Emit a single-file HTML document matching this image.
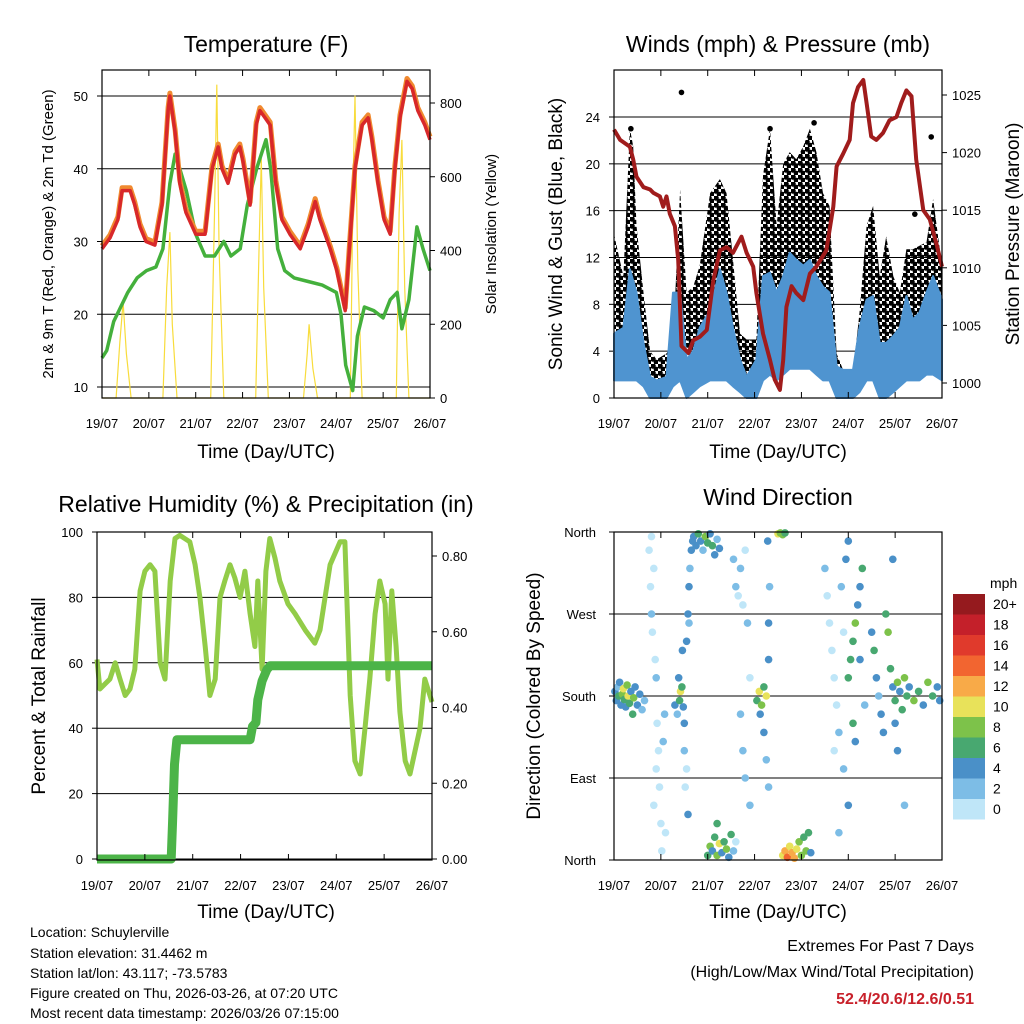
<!DOCTYPE html>
<html><head><meta charset="utf-8"><style>
body{margin:0;background:#fff}
svg{display:block;font-family:"Liberation Sans",sans-serif}
</style></head><body>
<svg id="s" width="1024" height="1024" viewBox="0 0 1024 1024" xmlns="http://www.w3.org/2000/svg">
<defs>
<pattern id="dots" width="7" height="7" patternUnits="userSpaceOnUse">
<circle cx="2" cy="2" r="2.8" fill="#000"/><circle cx="5.5" cy="5.5" r="2.8" fill="#000"/>
</pattern>
</defs>
<rect width="1024" height="1024" fill="#fff"/>
<g font-size="23" text-anchor="middle">
<text x="266" y="52">Temperature (F)</text>
<text x="778" y="52">Winds (mph) &amp; Pressure (mb)</text>
<text x="266" y="512">Relative Humidity (%) &amp; Precipitation (in)</text>
<text x="778" y="505">Wind Direction</text>
</g>
<g font-size="19" text-anchor="middle">
<text x="266" y="458">Time (Day/UTC)</text>
<text x="778" y="458">Time (Day/UTC)</text>
<text x="266" y="918">Time (Day/UTC)</text>
<text x="778" y="918">Time (Day/UTC)</text>
<text transform="translate(562,234) rotate(-90)">Sonic Wind &amp; Gust (Blue, Black)</text>
<text transform="translate(1019,234) rotate(-90)">Station Pressure (Maroon)</text>
<text transform="translate(45,696) rotate(-90)">Percent &amp; Total Rainfall</text>
<text transform="translate(540,696) rotate(-90)">Direction (Colored By Speed)</text>
</g>
<g font-size="15" text-anchor="middle">
<text transform="translate(53,234) rotate(-90)">2m &amp; 9m T (Red, Orange) &amp; 2m Td (Green)</text>
<text transform="translate(496,234) rotate(-90)">Solar Insolation (Yellow)</text>
</g>
<g font-size="14">
<text x="30" y="937">Location: Schuylerville</text>
<text x="30" y="958">Station elevation: 31.4462 m</text>
<text x="30" y="978">Station lat/lon: 43.117; -73.5783</text>
<text x="30" y="998">Figure created on Thu, 2026-03-26, at 07:20 UTC</text>
<text x="30" y="1018">Most recent data timestamp: 2026/03/26 07:15:00</text>
</g>
<g font-size="16" text-anchor="end">
<text x="974" y="951">Extremes For Past 7 Days</text>
<text x="974" y="977">(High/Low/Max Wind/Total Precipitation)</text>
<text x="974" y="1004" fill="#c8202a" font-weight="bold">52.4/20.6/12.6/0.51</text>
</g>
<g id="plots"></g>
</svg>
<script>
const dayLabels=['19/07','20/07','21/07','22/07','23/07','24/07','25/07','26/07'];
const tempTicks=[10,20,30,40,50];
const solarTicks=[0,200,400,600,800];
const windTicks=[0,4,8,12,16,20,24];
const presTicks=[1000,1005,1010,1015,1020,1025];
const rhTicks=[0,20,40,60,80,100];
const precipTicks=[0,0.2,0.4,0.6,0.8];
const dirTicks=['North','East','South','West','North'];
const speedBins=['0','2','4','6','8','10','12','14','16','18','20+'];

const tempT=[0,0.17,0.34,0.43,0.6,0.7,0.81,0.94,1.13,1.28,1.41,1.45,1.56,1.66,1.79,2.0,2.2,2.35,2.48,2.56,2.69,2.84,2.94,3.01,3.16,3.29,3.37,3.48,3.59,3.71,3.84,4.01,4.23,4.4,4.55,4.65,4.87,5.01,5.19,5.29,5.4,5.55,5.68,5.76,5.89,6.02,6.15,6.25,6.36,6.51,6.62,6.74,6.89,7.0];
const tempV=[29,30.5,33,37,37,35,32,30,29.5,35,48,50,45,38,34,31,31,40,43,40,38,42,43,41,35,46,48,47,46,38,33,31,29,32,35.5,33,29,26,20.5,30,40,46,47,44,38,33,31,40,47,52,51,48,46,44];
const dewT=[0,0.1,0.25,0.4,0.55,0.75,0.95,1.15,1.3,1.45,1.56,1.66,1.8,2.0,2.2,2.4,2.6,2.75,2.95,3.1,3.3,3.5,3.6,3.75,3.9,4.1,4.4,4.7,5.0,5.1,5.2,5.35,5.45,5.6,5.8,6.0,6.15,6.3,6.4,6.55,6.72,6.85,7.0];
const dewV=[14,15,19,21,23,25,26,26.5,29,38,42,40,37,31,28,28,30,28,29,35,40,44,40,29,26,25,24.5,24,23,20,13,9.5,17,21,20.5,19.5,22,23,18,22,32,29,26];
const solarT=[0,0.3,0.38,0.45,0.52,0.62,1.3,1.38,1.45,1.5,1.6,2.32,2.4,2.45,2.5,2.6,3.28,3.35,3.4,3.45,3.55,4.3,4.38,4.42,4.5,4.6,5.3,5.36,5.4,5.46,5.55,6.28,6.34,6.4,6.46,6.55,7.0];
const solarV=[0,0,150,260,120,0,0,300,450,200,0,0,500,850,400,0,0,400,650,300,0,0,120,200,80,0,0,600,820,350,0,0,500,700,300,0,0];
const presT=[0,0.13,0.34,0.41,0.48,0.63,0.77,0.84,0.98,1.05,1.12,1.19,1.3,1.37,1.44,1.59,1.69,1.83,1.98,2.12,2.26,2.4,2.54,2.72,2.83,2.97,3.04,3.18,3.33,3.43,3.54,3.61,3.68,3.79,3.89,4.04,4.18,4.32,4.53,4.68,4.75,4.89,5.03,5.1,5.21,5.32,5.39,5.49,5.6,5.74,5.88,6.03,6.13,6.24,6.35,6.45,6.6,6.74,6.88,7.0];
const presV=[1022,1021.1,1020.5,1019.4,1017.9,1017,1016.8,1016.5,1016.2,1015.3,1016.2,1014.7,1013.6,1010.7,1003.2,1002.6,1003.7,1004,1004.6,1008.9,1011.5,1011.8,1011.3,1012.7,1011.3,1010.1,1007.8,1004.3,1002,1000.3,999.4,1002,1006.6,1008.4,1007.8,1007.2,1009.5,1010.1,1011.5,1015.3,1018.8,1019.9,1021.1,1024.3,1025.7,1026.3,1024.3,1021.4,1021.1,1021.7,1022.8,1023.1,1024.3,1025.4,1024.9,1019.4,1015,1014.2,1012.1,1010.1];
const windT=[0,0.2,0.34,0.41,0.48,0.63,0.77,0.91,1.12,1.26,1.41,1.55,1.69,1.83,2.05,2.26,2.4,2.54,2.69,2.83,3.04,3.18,3.33,3.47,3.61,3.75,3.89,4.04,4.18,4.32,4.46,4.6,4.75,4.89,5.1,5.24,5.39,5.53,5.67,5.81,5.96,6.1,6.24,6.38,6.52,6.67,6.81,7.0];
const windHi=[5.5,6,11,10,9,4.7,1.8,1.5,1.8,9,9,3.3,4,6,7.5,11,9,6,3.3,1.8,3.3,10.4,10.7,9,10.4,12.4,11.8,11.3,11.8,10.4,9.5,9,2.7,2.4,2.4,6,8.4,8.7,4.7,4.7,5.3,6,8.7,6.7,7.3,9,10.4,8.4];
const windLo=[1.5,1.5,1.5,1.5,1.5,1,0,0,0,1,1.5,0,0.5,1,1.5,1.5,1.5,1,0.5,0,0,1.5,2,1.5,2,2.5,2.5,2.5,2.5,2,1.5,1.5,0,0,0,0.5,1.5,1.5,0,0,0.5,1,1.5,1.5,1.5,2,2,1.5];
const gustHi=[14,10.4,23,21.5,14.7,9,4,3.3,3.8,4.7,17.8,9,9.5,11.3,17.5,18.7,17.5,11.8,5.5,5,5,19,23,14.7,20,21,20.4,21.5,23,21,17.5,16.4,3.8,2.4,2.1,7.3,14.7,16.4,10.4,13.8,10.4,9,12.7,12.7,13,13.3,17,11.3];
const gustOutT=[1.44,0.36,4.27,3.33,6.42,6.77];
const gustOutV=[26.1,23,23.5,23,15.7,22.3];
const rhT=[0,0.06,0.27,0.38,0.48,0.59,0.69,0.79,0.9,1.0,1.11,1.21,1.32,1.42,1.53,1.63,1.73,1.94,2.05,2.15,2.26,2.36,2.47,2.57,2.67,2.78,2.88,2.99,3.09,3.2,3.3,3.36,3.45,3.53,3.61,3.72,3.82,3.99,4.14,4.35,4.55,4.66,4.87,5.08,5.18,5.29,5.39,5.5,5.6,5.7,5.81,5.91,6.02,6.08,6.16,6.25,6.33,6.44,6.54,6.75,6.85,7.0];
const rhV=[61,52,55,60,55,50,52,58,82,88,90,88,60,55,85,98,99,97,90,80,65,50,55,80,85,90,86,80,88,75,65,85,58,88,98,92,85,78,75,70,66,70,90,97,97,50,30,26,40,55,75,85,78,55,82,65,45,30,26,40,55,48];
const precipT=[0,1.55,1.58,1.62,1.67,3.2,3.25,3.32,3.36,3.45,3.55,3.62,7.0];
const precipV=[0,0,0.1,0.25,0.315,0.315,0.35,0.36,0.42,0.47,0.5,0.51,0.51];
const dirT=[0.02,0.05,0.08,0.1,0.12,0.15,0.18,0.2,0.22,0.25,0.28,0.3,0.33,0.36,0.4,0.42,0.45,0.5,0.55,0.6,0.65,
0.75,0.78,0.8,0.82,0.85,0.88,0.9,0.92,0.95,0.97,1.0,1.02,0.85,0.9,1.05,1.08,0.8,1.1,
1.3,1.35,1.4,1.42,1.45,1.48,1.5,1.38,1.46,1.5,1.55,
1.55,1.58,1.6,1.62,1.65,1.68,1.6,1.52,1.58,
1.7,1.75,1.8,1.85,1.9,1.95,2.0,2.05,2.1,2.15,2.2,2.25,
2.0,2.05,2.1,2.15,2.2,2.25,2.3,2.35,2.4,2.45,2.5,2.55,2.2,
2.55,2.6,2.65,2.7,2.75,2.8,2.85,2.9,2.7,2.75,2.8,2.9,2.6,
3.05,3.1,3.15,3.2,3.25,3.12,3.2,3.25,3.3,3.3,3.32,3.28,3.3,
3.5,3.55,3.6,3.65,
3.6,3.65,3.7,3.75,3.8,3.85,3.9,3.95,4.0,4.05,4.1,4.15,4.2,
4.5,4.55,4.6,4.65,4.7,4.75,4.8,4.85,4.9,4.95,5.0,4.7,4.9,5.0,4.8,
5.0,5.05,5.1,5.15,5.2,5.1,5.15,5.25,5.3,5.25,5.35,
5.5,5.55,5.6,5.65,5.7,5.75,5.8,5.85,5.9,5.95,6.0,6.05,6.1,6.15,6.2,6.25,6.3,6.0,6.05,5.95,6.2,6.4,6.5,6.6,6.7,6.8,6.9,6.95];
const dirV=[185,175,190,180,195,170,182,188,176,168,192,180,172,185,160,178,190,170,182,165,175,
340,300,270,250,320,220,200,150,120,80,40,10,60,100,130,160,355,30,
170,160,175,185,190,168,150,200,230,120,100,
240,270,300,320,340,350,260,80,50,
355,345,358,350,340,355,348,358,345,335,352,342,
5,15,10,25,5,18,8,20,12,3,28,10,40,
330,300,290,320,280,340,260,200,160,120,90,60,20,
175,185,170,190,180,160,140,110,220,260,300,350,80,
358,359,357,359,
5,10,3,15,8,2,12,20,5,25,10,30,8,
320,290,260,230,200,170,140,300,250,330,350,120,100,60,30,
200,220,240,260,280,150,130,300,320,220,170,
250,230,200,180,160,140,270,250,210,190,175,195,185,165,200,180,190,150,120,330,60,175,185,170,195,180,190,175];
const dirS=[4,4,2,6,4,4,8,10,6,4,8,10,6,4,6,8,4,4,4,2,2,
0,0,2,0,0,0,2,0,0,0,0,0,0,0,2,2,0,0,
4,2,6,10,6,4,4,4,4,2,0,
4,4,4,2,4,4,2,0,4,
4,4,6,4,2,8,6,4,6,4,2,4,
6,8,4,6,8,10,4,6,8,4,6,2,6,
2,2,0,2,0,0,2,0,2,2,2,2,0,
6,10,8,6,10,4,4,2,4,4,2,4,2,
10,8,8,6,
10,12,14,10,12,12,10,8,8,6,8,6,4,
2,0,0,0,0,0,2,2,0,4,4,0,2,4,2,
6,6,6,8,4,6,4,4,6,4,2,
4,6,4,2,4,4,6,8,6,4,6,8,4,6,8,6,4,4,4,4,2,8,6,4,8,6,4,4];
const binColors=['#bfe6f8','#7dbde6','#4a90c8','#48a870','#7dc24a','#e8e25a','#f8aa48','#f26530','#e03a2c','#c4202a','#951a1e'];

const NS='http://www.w3.org/2000/svg';
const root=document.getElementById('plots');
function mk(tag,attrs,parent){const e=document.createElementNS(NS,tag);for(const k in attrs)e.setAttribute(k,attrs[k]);(parent||root).appendChild(e);return e;}
function scale(d0,d1,r0,r1){return v=>r0+(v-d0)/(d1-d0)*(r1-r0);}
function pathD(T,V,sx,sy){return T.map((t,i)=>(i?'L':'M')+sx(t).toFixed(1)+' '+sy(V[i]).toFixed(1)).join(' ');}
function bandD(T,Lo,Hi,sx,sy){let d=T.map((t,i)=>(i?'L':'M')+sx(t).toFixed(1)+' '+sy(Hi[i]).toFixed(1)).join(' ');for(let i=T.length-1;i>=0;i--)d+='L'+sx(T[i]).toFixed(1)+' '+sy(Lo[i]).toFixed(1);return d+'Z';}

function frame(x0,y0,x1,y1,sx,name,lblY){
  const g=mk('g',{});
  
  
  dayLabels.forEach((l,i)=>{
    const x=sx(i);
    mk('line',{x1:x,x2:x,y1:y1,y2:y1-6,stroke:'#000'},g);
    mk('line',{x1:x,x2:x,y1:y0,y2:y0+6,stroke:'#000'},g);
    const tx=mk('text',{x:x,y:lblY,'font-size':13,'text-anchor':'middle'},g);
    tx.textContent=l;
    
    
  });
}
function border(x0,y0,x1,y1,name){
  const r=mk('rect',{x:x0,y:y0,width:x1-x0,height:y1-y0,fill:'none',stroke:'#000','stroke-width':1.2});
  
  
}
function yAxis(ticks,sy,x0,x1,side,fmt,grid,name){
  ticks.forEach(v=>{
    const y=sy(v);
    if(grid){const gl=mk('line',{x1:x0,x2:x1,y1:y,y2:y,stroke:'#000','stroke-width':1});
      
      }
    const xe=side==='l'?x0:x1;
    mk('line',{x1:xe,x2:xe+(side==='l'?-5:5),y1:y,y2:y,stroke:'#000'});
    const tx=mk('text',{x:side==='l'?x0-14:x1+10,y:y+5,'font-size':13,'text-anchor':side==='l'?'end':'start'});
    tx.textContent=fmt(v);
    
    
  });
}

/* Panel 1: temperature */
{const sx=scale(0,7,102,430),sy=scale(10,50,387,96),ss=scale(0,800,398,103);
 yAxis(tempTicks,sy,102,430,'l',v=>v,true,'temp');
 yAxis(solarTicks,ss,102,430,'r',v=>v,false,'solar');
 const so=mk('path',{d:pathD(solarT,solarV,sx,ss),fill:'none',stroke:'#f8dc3c','stroke-width':1.2});
 
 
 const dw=mk('path',{d:pathD(dewT,dewV,sx,sy),fill:'none',stroke:'#44b03c','stroke-width':3.5,'stroke-linejoin':'round'});
 
 
 const o=mk('path',{d:pathD(tempT,tempV.map(v=>v+0.4),sx,sy),fill:'none',stroke:'#f08a30','stroke-width':5,'stroke-linejoin':'round'});
 
 
 const r=mk('path',{d:pathD(tempT,tempV,sx,sy),fill:'none',stroke:'#d8282a','stroke-width':3.5,'stroke-linejoin':'round'});
 
 
 border(102,70,430,398,'temp');frame(102,70,430,398,sx,'temp',428);}

/* Panel 2: winds & pressure */
{const sx=scale(0,7,614,942),sy=scale(0,24,398,117),sp=scale(1000,1025,383,95);
 yAxis(windTicks,sy,614,942,'l',v=>v,true,'wind');
 yAxis(presTicks,sp,614,942,'r',v=>v,false,'pressure');
 const gb=mk('path',{d:bandD(windT,windLo,gustHi,sx,sy),fill:'url(#dots)',stroke:'none'});
 
 
 gustOutT.forEach((t,i)=>{const c=mk('circle',{cx:sx(t),cy:sy(gustOutV[i]),r:2.8,fill:'#000'});
  
  });
 const wb=mk('path',{d:bandD(windT,windLo,windHi,sx,sy),fill:'#4f94d0',stroke:'#4f94d0','stroke-width':2,'stroke-linejoin':'round'});
 
 
 const pl=mk('path',{d:pathD(presT,presV,sx,sp),fill:'none',stroke:'#a01c1c','stroke-width':4,'stroke-linejoin':'round'});
 
 
 border(614,70,942,398,'winds');frame(614,70,942,398,sx,'winds',428);}

/* Panel 3: RH & precip */
{const sx=scale(0,7,97,432),sy=scale(0,100,859,532),sp=scale(0,0.8,859,556);
 yAxis(rhTicks,sy,97,432,'l',v=>v,true,'rh');
 yAxis(precipTicks,sp,97,432,'r',v=>v.toFixed(2),false,'precip');
 const rl=mk('path',{d:pathD(rhT,rhV,sx,sy),fill:'none',stroke:'#92cc48','stroke-width':5,'stroke-linejoin':'round'});
 
 
 const pl=mk('path',{d:pathD(precipT,precipV,sx,sp),fill:'none',stroke:'#4cb448','stroke-width':9,'stroke-linejoin':'round'});
 
 
 border(97,532,432,860,'rh');frame(97,532,432,860,sx,'rh',890);}

/* Panel 4: wind direction */
{const sx=scale(0,7,614,942),sy=scale(0,360,860,532);
 dirTicks.forEach((l,i)=>{const y=sy(i*90);
  const gl=mk('line',{x1:614,x2:942,y1:y,y2:y,stroke:'#000'});
  
  
  mk('line',{x1:614,x2:609,y1:y,y2:y,stroke:'#000'});
  const tx=mk('text',{x:596,y:y+5,'font-size':13,'text-anchor':'end'});
  tx.textContent=l;
  
  });
 dirT.forEach((t,i)=>{const b=Math.min(10,Math.floor(dirS[i]/2));
  const c=mk('circle',{cx:sx(t).toFixed(1),cy:sy(dirV[i]).toFixed(1),r:3.8,fill:binColors[b]});
  
  });
 border(614,532,942,860,'dir');frame(614,532,942,860,sx,'dir',890);
 const lg=mk('g',{});
 
 
 const mt=mk('text',{x:990,y:588,'font-size':14},lg);mt.textContent='mph';
 
 
 speedBins.forEach((l,i)=>{const k=10-i,y=594+k*20.5;
  const r=mk('rect',{x:953,y:y,width:32,height:20.5,fill:binColors[i]},lg);
  
  
  const tx=mk('text',{x:993,y:y+15,'font-size':14},lg);tx.textContent=l;
  
  });}
</script>
</body></html>
